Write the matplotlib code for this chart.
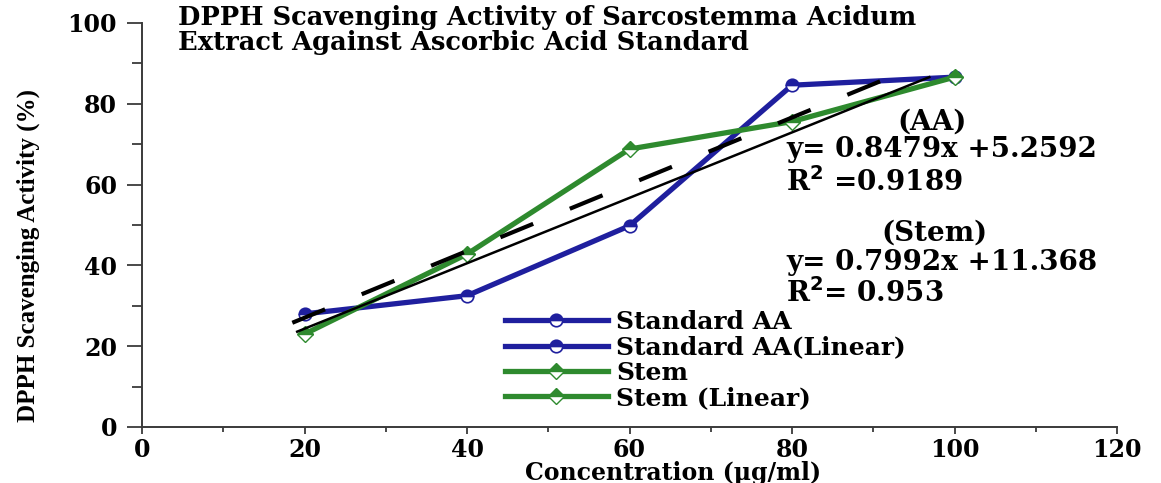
import matplotlib
matplotlib.use("Agg")
import matplotlib.pyplot as plt
from matplotlib.lines import Line2D
from matplotlib.ticker import MultipleLocator

# --- data ---
conc = [20, 40, 60, 80, 100]
aa_activity = [28.0, 32.5, 49.8, 84.6, 86.6]
stem_activity = [23.0, 42.8, 68.8, 75.6, 86.6]

# trend lines (end points as drawn)
aa_fit_x = [19.1, 96.9]
aa_fit_y = [23.6, 86.6]
stem_fit_x = [18.5, 92.7]
stem_fit_y = [25.8, 87.1]

legend_labels = ["Standard AA", "Standard AA(Linear)", "Stem", "Stem (Linear)"]
title_text = "DPPH Scavenging Activity of Sarcostemma Acidum\nExtract Against Ascorbic Acid Standard"

BLUE = "#1f1f9e"
GREEN = "#2e8a2e"
SERIF = "DejaVu Serif"

fig = plt.figure(figsize=(11.61, 4.83), dpi=100)
ax = fig.add_axes([142 / 1161, 1 - 427 / 483, 975 / 1161, 404 / 483])

aa_style = dict(color=BLUE, lw=3.8, marker="o", ms=9, fillstyle="top",
                markerfacecolor=BLUE, markerfacecoloralt="white",
                markeredgecolor=BLUE, markeredgewidth=1.2)
stem_style = dict(color=GREEN, lw=3.8, marker="D", ms=8, fillstyle="top",
                  markerfacecolor=GREEN, markerfacecoloralt="white",
                  markeredgecolor=GREEN, markeredgewidth=1.0)

ax.plot(conc, aa_activity, zorder=2, **aa_style)
ax.plot(conc, stem_activity, zorder=3, **stem_style)
ax.plot(aa_fit_x, aa_fit_y, color="black", lw=1.8, zorder=4)
ax.plot(stem_fit_x, stem_fit_y, color="black", lw=3, dashes=(8.5, 9.5), zorder=5)

ax.set_xlim(0, 120)
ax.set_ylim(0, 100)
ax.xaxis.set_major_locator(MultipleLocator(20))
ax.xaxis.set_minor_locator(MultipleLocator(10))
ax.yaxis.set_major_locator(MultipleLocator(20))
ax.yaxis.set_minor_locator(MultipleLocator(10))

for s in ["top", "right"]:
    ax.spines[s].set_visible(False)
for s in ["left", "bottom"]:
    ax.spines[s].set_linewidth(1.4)
    ax.spines[s].set_color("#3a3a3a")

ax.tick_params(axis="y", which="major", direction="out", length=11, width=1.3, pad=7, color="#3a3a3a")
ax.tick_params(axis="y", which="minor", direction="out", length=7, width=1.3, color="#3a3a3a")
ax.tick_params(axis="x", which="major", direction="out", length=5, width=1.3, pad=3, color="#3a3a3a")
ax.tick_params(axis="x", which="minor", direction="out", length=3.5, width=1.3, color="#3a3a3a")

for lab in ax.get_xticklabels() + ax.get_yticklabels():
    lab.set_fontfamily(SERIF)
    lab.set_fontweight("bold")
    lab.set_fontsize(17)

ax.set_xlabel("Concentration (\u00b5g/ml)", fontfamily=SERIF, fontweight="bold", fontsize=17)
ax.xaxis.set_label_coords((673 - 142) / 975, -(461 - 427) / 404)
ax.set_ylabel("DPPH Scavenging Activity (%)", fontfamily="Liberation Serif",
              fontweight="bold", fontsize=18)
ax.yaxis.set_label_coords(-(142 - 28) / 975, (427 - 255) / 404)
ax.yaxis.label.set_va("center")

fig.text(178 / 1161, 1 - 5 / 483, title_text, ha="left", va="top",
         fontfamily=SERIF, fontweight="bold", fontsize=18.5, linespacing=1.0)

# equation annotations
eq_kw = dict(fontfamily=SERIF, fontweight="bold", fontsize=20, va="center")
ax.text(97.3, 75.5, "(AA)", ha="center", **eq_kw)
ax.text(79.3, 68.6, "y= 0.8479x +5.2592", ha="left", **eq_kw)
ax.text(79.3, 60.6, "R$^{\\mathbf{2}}$ =0.9189", ha="left", **eq_kw)
ax.text(97.5, 48.0, "(Stem)", ha="center", **eq_kw)
ax.text(79.3, 40.8, "y= 0.7992x +11.368", ha="left", **eq_kw)
ax.text(79.3, 33.2, "R$^{\\mathbf{2}}$= 0.953", ha="left", **eq_kw)

handles = [
    Line2D([], [], **aa_style),
    Line2D([], [], **aa_style),
    Line2D([], [], **stem_style),
    Line2D([], [], **stem_style),
]
ax.legend(handles, legend_labels, loc="upper left",
          bbox_to_anchor=(505 / 1161, 1 - 310 / 483), bbox_transform=fig.transFigure,
          frameon=False, borderpad=0, borderaxespad=0, handlelength=4.1,
          handletextpad=0.35, labelspacing=0.05, numpoints=1,
          prop=dict(family=SERIF, weight="bold", size=18))

fig.savefig("out.png", dpi=100)
